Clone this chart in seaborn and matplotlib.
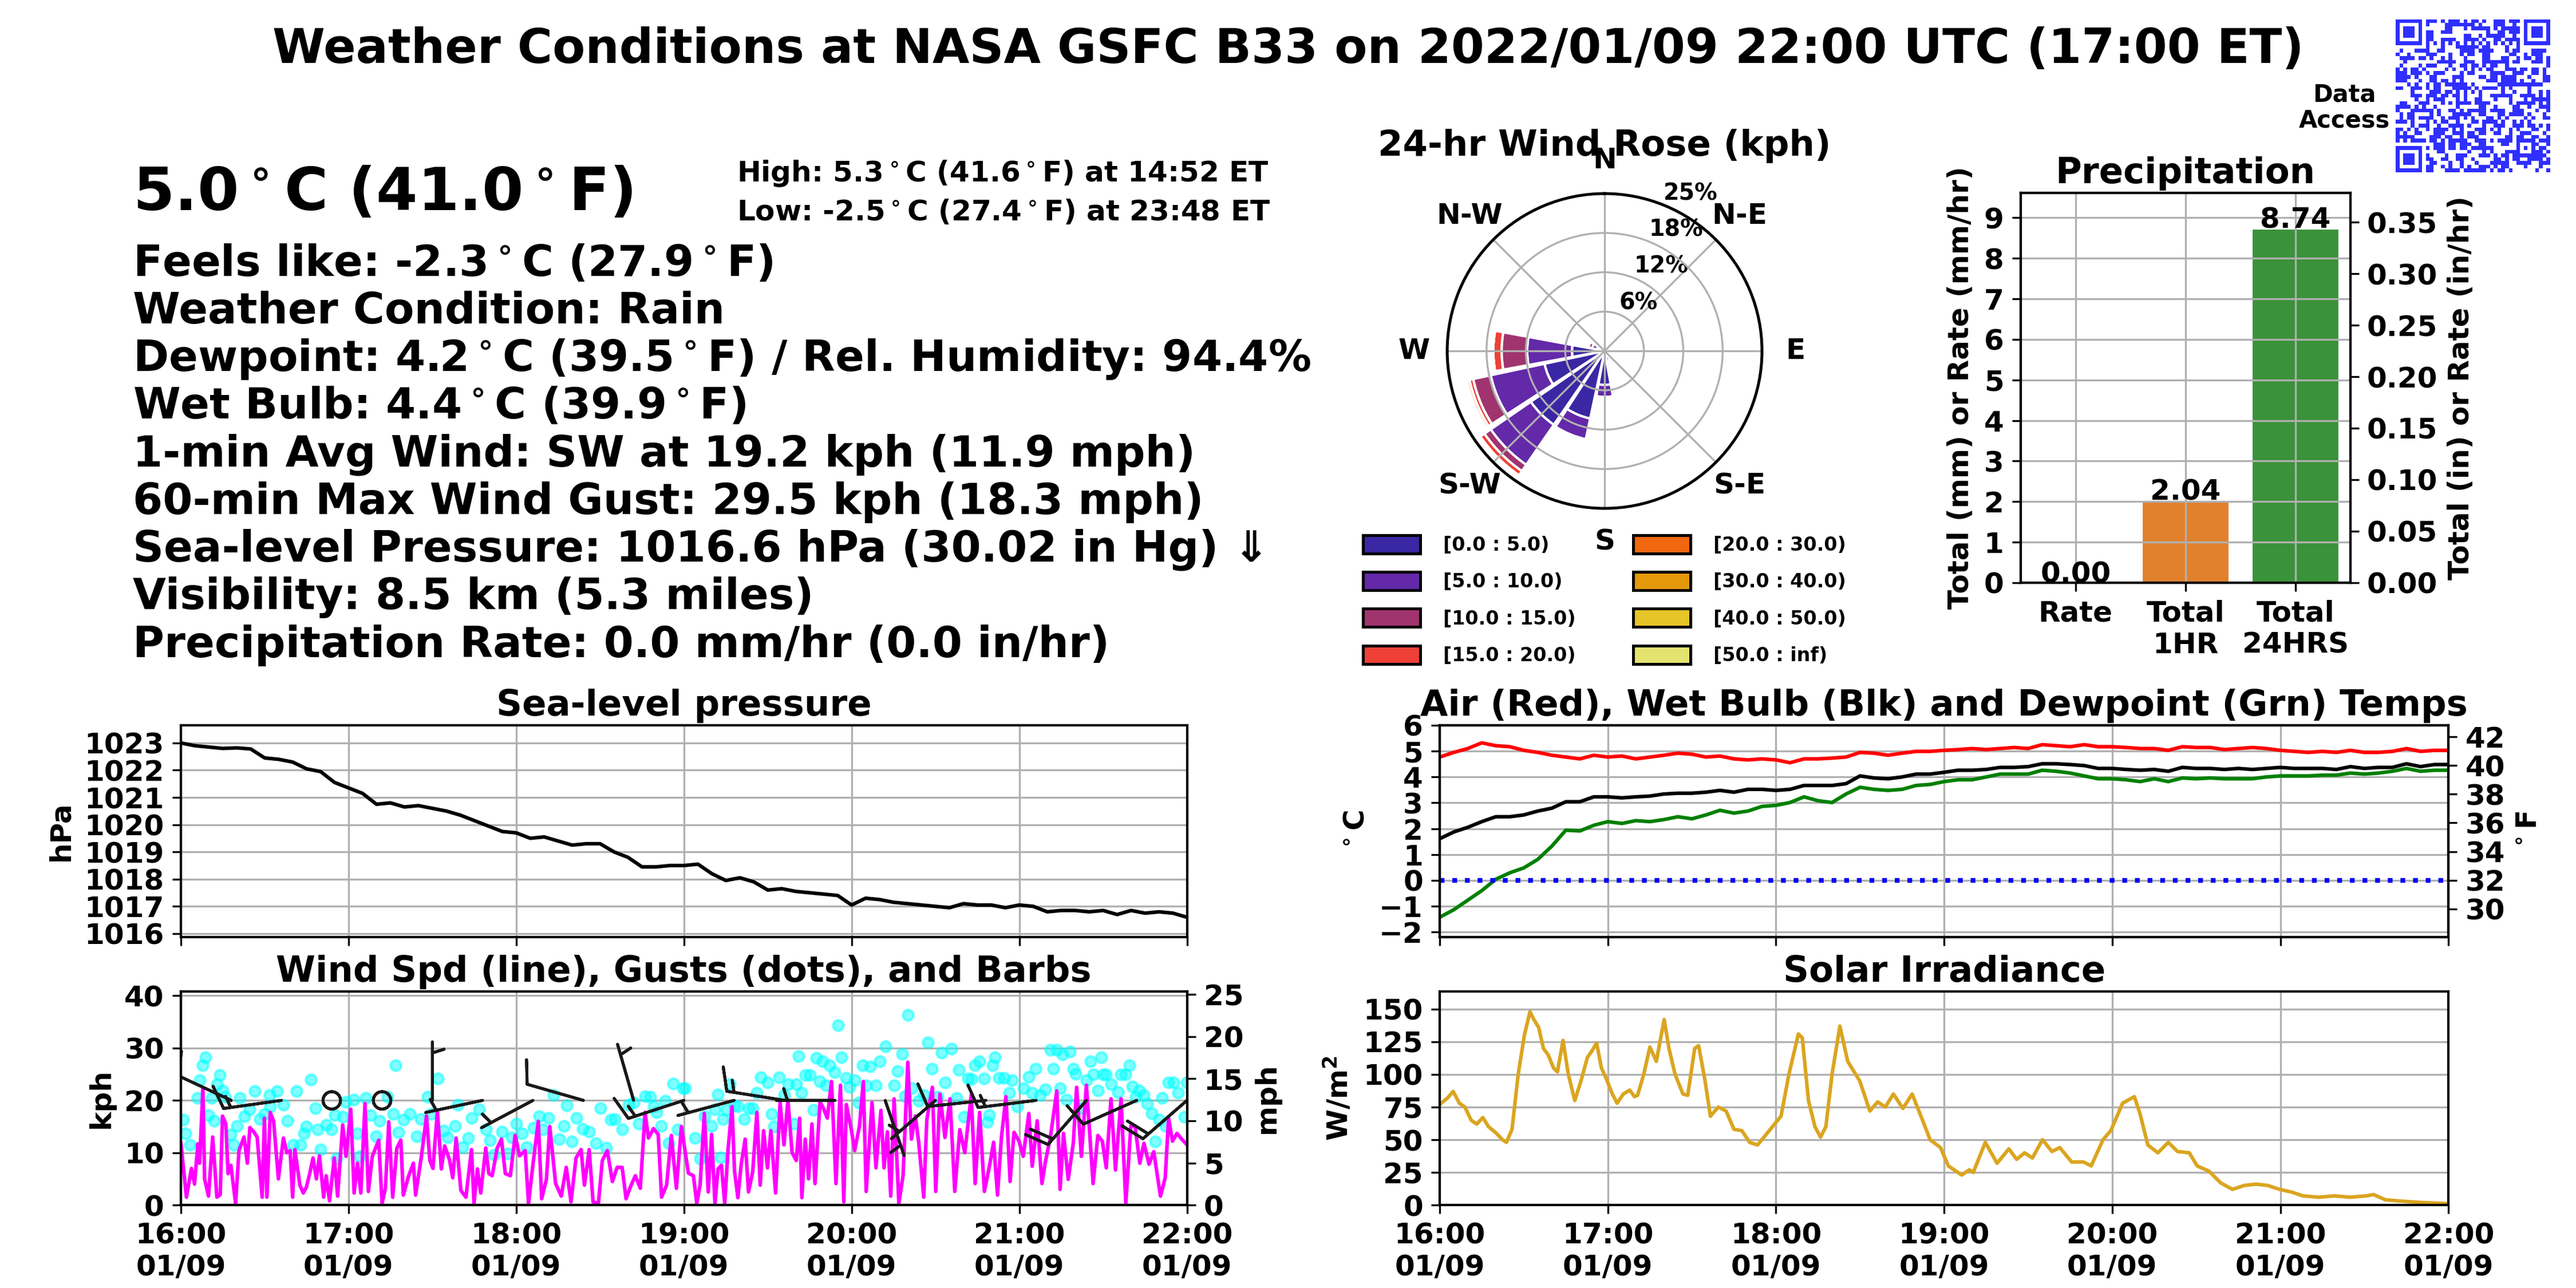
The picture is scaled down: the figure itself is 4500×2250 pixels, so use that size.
import hashlib
import numpy as np
import pandas as pd
import matplotlib
matplotlib.use("Agg")
import matplotlib.pyplot as plt
import matplotlib.dates as mdates
from matplotlib.patches import Patch
from matplotlib.colors import ListedColormap
import seaborn as sns

# ---------------- data ----------------
start = pd.Timestamp("2022-01-09 16:00")
end = pd.Timestamp("2022-01-09 22:00")

five_min = np.arange(0, 361, 5)  # minutes after 16:00

pressure_hpa = [
    1023.00, 1022.90, 1022.85, 1022.80, 1022.82, 1022.78,
    1022.45, 1022.40, 1022.30, 1022.05, 1021.95, 1021.55,
    1021.35, 1021.15, 1020.75, 1020.80, 1020.65, 1020.70,
    1020.60, 1020.50, 1020.35, 1020.15, 1019.95, 1019.75,
    1019.70, 1019.50, 1019.55, 1019.40, 1019.25, 1019.30,
    1019.30, 1019.00, 1018.80, 1018.45, 1018.45, 1018.50,
    1018.50, 1018.55, 1018.20, 1017.95, 1018.05, 1017.90,
    1017.60, 1017.65, 1017.55, 1017.50, 1017.45, 1017.40,
    1017.05, 1017.30, 1017.25, 1017.15, 1017.10, 1017.05,
    1017.00, 1016.95, 1017.10, 1017.05, 1017.05, 1016.95,
    1017.05, 1017.00, 1016.80, 1016.85, 1016.85, 1016.80,
    1016.85, 1016.70, 1016.85, 1016.75, 1016.80, 1016.75,
    1016.60]

air_temp_c = [
    4.77, 4.95, 5.10, 5.32, 5.21, 5.17, 5.03, 4.95, 4.84, 4.77, 4.70, 4.84,
    4.77, 4.81, 4.70, 4.77, 4.84, 4.92, 4.88, 4.77, 4.81, 4.70, 4.66, 4.70,
    4.66, 4.55, 4.70, 4.70, 4.73, 4.77, 4.95, 4.92, 4.84, 4.92, 4.99, 4.99,
    5.03, 5.06, 5.10, 5.06, 5.10, 5.14, 5.10, 5.25, 5.21, 5.17, 5.25, 5.17,
    5.17, 5.14, 5.10, 5.10, 5.03, 5.17, 5.14, 5.14, 5.06, 5.10, 5.14, 5.10,
    5.03, 4.99, 4.95, 4.99, 4.95, 5.03, 4.95, 4.95, 4.99, 5.10, 4.99, 5.03,
    5.03]

wetbulb_c = [
    1.61, 1.87, 2.05, 2.27, 2.46, 2.46, 2.53, 2.68, 2.79, 3.04, 3.04, 3.23,
    3.23, 3.19, 3.23, 3.26, 3.34, 3.37, 3.37, 3.41, 3.48, 3.41, 3.52, 3.52,
    3.48, 3.52, 3.67, 3.67, 3.67, 3.74, 4.04, 3.96, 3.93, 4.00, 4.11, 4.11,
    4.18, 4.26, 4.26, 4.29, 4.37, 4.37, 4.40, 4.51, 4.51, 4.48, 4.44, 4.33,
    4.33, 4.29, 4.26, 4.29, 4.22, 4.37, 4.33, 4.33, 4.29, 4.33, 4.29, 4.33,
    4.37, 4.33, 4.33, 4.33, 4.29, 4.40, 4.33, 4.37, 4.37, 4.51, 4.40, 4.48,
    4.48]

dewpoint_c = [
    -1.43, -1.14, -0.77, -0.40, 0.04, 0.29, 0.48, 0.81, 1.32, 1.94, 1.91, 2.13,
    2.27, 2.20, 2.31, 2.27, 2.35, 2.46, 2.38, 2.53, 2.71, 2.60, 2.68, 2.86,
    2.90, 3.01, 3.23, 3.08, 3.01, 3.34, 3.60, 3.52, 3.48, 3.52, 3.67, 3.71,
    3.82, 3.89, 3.89, 4.00, 4.11, 4.11, 4.11, 4.26, 4.22, 4.15, 4.04, 3.93,
    3.93, 3.89, 3.82, 3.93, 3.82, 3.96, 3.93, 3.96, 3.93, 3.93, 3.93, 4.00,
    4.04, 4.04, 4.04, 4.07, 4.07, 4.15, 4.11, 4.15, 4.22, 4.33, 4.22, 4.26,
    4.26]

# (minute after 16:00, W/m2)
solar_obs = [
    (0, 77), (2.8, 82), (4.8, 87), (7, 78), (9, 75), (11.2, 65), (13.2, 62),
    (15.4, 67), (17.4, 60), (20.2, 55), (22.4, 50), (23.8, 48), (25.8, 58),
    (28, 100), (30.2, 130), (32.2, 148), (33.6, 142), (35.3, 136), (37, 120),
    (38.7, 115), (40.6, 105), (42, 102), (44, 126), (45.9, 100), (48.2, 80),
    (50.4, 95), (52.7, 113), (54.3, 118), (56, 124), (57.7, 105), (59.4, 97),
    (61.6, 85), (63.3, 78), (65.5, 85), (67.8, 88), (69.5, 83), (70.6, 84),
    (72.8, 100), (75, 121), (77.3, 110), (80.1, 142), (81.8, 120), (84, 100),
    (86.8, 85), (88.5, 84), (91, 120), (92.4, 122), (94.7, 95), (96.6, 68),
    (99.4, 75), (102.2, 72), (105, 58), (107.8, 57), (110.6, 48), (113.4, 46),
    (117.6, 57), (121.8, 68), (124.6, 100), (128, 131), (129.4, 128),
    (131.6, 80), (133.9, 60), (135.9, 52), (137.8, 60), (140, 100),
    (142.8, 137), (145.6, 110), (149.9, 95), (153.5, 72), (156.3, 79),
    (159, 75), (161.9, 85), (165.3, 74), (168.6, 85), (172.3, 65), (175, 50),
    (178.7, 44), (181.5, 30), (186.3, 23), (189, 27), (190.4, 25), (194.7, 48),
    (198.9, 32), (203.1, 43), (205.9, 35), (208.7, 40), (211.5, 36),
    (215.1, 50), (218.5, 41), (221.3, 44), (225.5, 33), (229.7, 33),
    (232.5, 30), (236.7, 50), (239.5, 57), (243.7, 78), (247.9, 83),
    (249.9, 70), (252.7, 46), (256.3, 40), (260, 48), (263.3, 41),
    (267.5, 40), (270.3, 30), (274.5, 26), (278.7, 17), (282.9, 12),
    (287.1, 15), (291.3, 16), (295.5, 15), (299.7, 12), (303.9, 10),
    (308.1, 7), (313.7, 6), (319.3, 7), (324.9, 6), (330.5, 7), (333.3, 8),
    (337.5, 4), (343.1, 3), (350.1, 2), (355.7, 1.5), (360, 1)]

# 1-min average wind (minute, kph)
wind_obs = [
    (0, 12), (2, 1.5), (3.8, 7), (4.9, 4), (6.1, 11.7), (6.7, 8), (7.9, 22.3),
    (8.5, 5), (9.9, 1.7), (11.4, 13), (12.9, 1.5), (14.1, 2), (14.9, 17),
    (16.1, 15.5), (16.9, 6), (17.9, 7.6), (19.6, 0.3), (20.8, 10.4), (22.6, 13),
    (23.8, 8), (24.7, 14.8), (26.1, 14), (27.3, 13), (29.1, 1.5), (29.9, 16.6),
    (30.8, 1.5), (32.0, 17.7), (33.2, 16), (34.9, 5), (36.7, 12.8), (37.9, 10),
    (39.1, 10.4), (40.0, 1.5), (40.8, 10.6), (42.6, 3.8), (43.8, 2.3),
    (44.9, 3.4), (46.1, 6), (47.3, 9), (48.5, 5), (49.6, 9.4), (51.1, 1.5),
    (52.0, 5.6), (53.2, 0.8), (54.9, 9), (56.1, 1.7), (57.9, 15.3), (59.1, 9.3),
    (60.8, 18.3), (62.0, 2.3), (63.2, 8), (64.4, 2.3), (65.9, 19.4), (67.1, 2.6),
    (68.5, 9.3), (70.8, 12.4), (72.0, 0.3), (73.2, 3.2), (74.4, 15.9),
    (75.8, 1.5), (77.3, 10.9), (78.7, 12.4), (79.6, 1.9), (81.4, 5.4),
    (83.2, 8), (84.0, 1.9), (86.1, 9.4), (87.9, 17), (89.1, 8.5), (90.2, 7),
    (91.8, 17.9), (93.2, 6.9), (94.4, 11.3), (96.1, 8.7), (97.3, 5.2),
    (98.5, 12.8), (100.2, 2.8), (102.0, 1.5), (104.0, 10.6), (104.9, 0.3),
    (106.1, 6.9), (107.3, 2.3), (109.1, 10.9), (110.2, 6), (111.4, 5.6),
    (113.2, 10.9), (114.7, 12.6), (116.1, 6), (117.9, 5.6), (119.6, 13.3),
    (121.2, 9.4), (123.2, 10.4), (124.4, 0.3), (126.1, 8.3), (127.9, 16),
    (129.1, 1.2), (130.8, 4.9), (132.0, 15), (134.1, 4.1), (136.1, 1.7),
    (137.9, 7.2), (139.6, 0.6), (141.4, 9), (143.2, 10.6), (144.4, 3.8),
    (146.1, 10.6), (147.5, 0.6), (149.4, 0.3), (150.8, 8.5), (152.6, 10.4),
    (154.4, 4.5), (156.1, 7.2), (157.9, 7.2), (159.3, 1.2), (160.8, 3.4),
    (162.6, 5.6), (164.4, 3.2), (166.1, 17.7), (167.3, 12.8), (169.1, 14.6),
    (170.8, 13.5), (172.0, 1.5), (173.8, 3.8), (175.5, 13.3), (177.3, 3.2),
    (179.1, 15), (180.0, 11.8), (181.6, 6.1), (183.4, 5.6), (184.6, 0.3),
    (185.8, 3.9), (187.3, 17.5), (188.7, 2.5), (189.9, 13.5), (191.1, 0.3),
    (192.2, 6.9), (193.4, 7.6), (194.6, 0.3), (195.8, 10.7), (197.2, 18.8),
    (198.1, 6.5), (199.3, 1.4), (200.5, 7.8), (201.9, 12.6), (203.1, 2.5),
    (204.6, 6.3), (206.1, 17.7), (207.3, 3.8), (208.5, 14.2), (209.9, 7.1),
    (211.1, 14.2), (212.8, 2.3), (214.4, 19.6), (215.8, 11.5), (217.2, 20.1),
    (218.7, 10), (220.2, 8.5), (221.4, 16.6), (222.2, 1.4), (223.4, 12.6),
    (224.6, 5), (225.8, 15.5), (226.9, 4.1), (228.7, 19.7), (229.9, 18.5),
    (231.3, 16.6), (232.8, 23.6), (234.4, 4.1), (236.0, 22.9), (237.2, 0.6),
    (238.1, 19.2), (239.9, 14.4), (241.1, 10.4), (242.8, 15.1), (244.2, 23.6),
    (245.2, 2.6), (247.3, 19.6), (248.7, 7.1), (250.5, 18.1), (251.6, 7.1),
    (252.8, 14), (254.0, 1.7), (255.2, 20.3), (256.9, 0.3), (258.4, 5.6),
    (260.1, 27.3), (261.4, 12.6), (262.8, 17), (264.0, 12), (265.8, 1.5),
    (266.9, 16.3), (268.9, 22.5), (270.1, 2.6), (271.6, 21.2), (273.4, 12.9),
    (275.2, 20.3), (276.9, 2.6), (278.7, 14.4), (280.5, 10), (282.8, 21),
    (284.2, 4.1), (285.8, 17.7), (287.5, 2.6), (289.3, 7.4), (290.8, 12),
    (292.2, 1.9), (293.6, 12.9), (295.2, 20.7), (296.7, 4.5), (298.1, 13.9),
    (299.9, 12.2), (301.4, 9.3), (303.4, 17.5), (304.6, 7.4), (306.4, 16.1),
    (308.1, 4.1), (309.3, 8.2), (311.1, 12.9), (313.4, 21.8), (314.6, 3),
    (315.8, 13.7), (317.5, 4.9), (319.3, 11.8), (320.5, 22.5), (322.2, 9.3),
    (324.0, 22.9), (326.4, 4.1), (328.1, 13.3), (329.7, 12.2), (331.1, 7.1),
    (332.8, 20.3), (334.4, 6.7), (336.4, 20.3), (338.1, 0.3), (339.9, 15.1),
    (341.4, 15.1), (343.1, 8), (344.6, 11.8), (346.4, 7.8), (348.1, 10.2),
    (350.5, 1.7), (352.2, 5.2), (353.4, 16.6), (354.8, 12.2), (356.4, 13.7),
    (358.1, 12.6), (360.0, 11.5)]

# gusts (minute, kph)
gust_obs = [
    (0.8, 16.3), (1.6, 13.7), (3.2, 11.5), (5.9, 20.5), (6.8, 23.8), (7.9, 26.7),
    (8.8, 28.2), (9.9, 17.2), (11.1, 20.5), (12.0, 16.1), (12.9, 23.1),
    (13.9, 24.8), (14.9, 21.9), (15.8, 20.7), (17.9, 13.5), (18.8, 11.5),
    (20.0, 15.1), (21.1, 20.5), (22.8, 17), (24.7, 18.3), (26.5, 21.8),
    (28.2, 16.4), (29.9, 17.4), (31.8, 21), (32.0, 18.8), (34.4, 21.8),
    (36.7, 19.2), (38.1, 16.1), (40.2, 11.5), (41.4, 21.8), (42.8, 11.5),
    (44.0, 13.7), (44.9, 15), (46.5, 24), (48.1, 18.5), (48.9, 14.4),
    (49.9, 10.6), (52.0, 15.3), (53.9, 14.4), (55.1, 17.2), (55.8, 8.9),
    (57.9, 16.8), (59.1, 19.7), (61.8, 20.1), (63.2, 13.7), (64.0, 9.3),
    (66.1, 20.5), (67.9, 17.2), (69.9, 13.1), (71.1, 16.1), (73.9, 20.7),
    (76.1, 17.4), (76.8, 26.7), (77.9, 13.9), (79.6, 16.3), (82.0, 17.4),
    (84.4, 13.1), (85.9, 16.4), (88.2, 20.7), (89.6, 17.4), (92.0, 24.2),
    (94.1, 14.2), (95.5, 12.9), (98.1, 15.1), (99.1, 19.2), (100.8, 11.1),
    (102.8, 12.8), (104.0, 16.6), (106.7, 18.3), (109.1, 14.4), (110.6, 12.4),
    (112.0, 9.6), (114.9, 14), (116.9, 9.8), (118.5, 12.9), (120.0, 15.5),
    (122.0, 13.7), (123.8, 11.1), (126.1, 14.8), (128.2, 17), (129.4, 14.4),
    (131.6, 16.6), (133.4, 21), (135.5, 12.6), (137.1, 15.1), (138.1, 19),
    (140.0, 12.2), (141.6, 16.6), (143.8, 14.6), (146.1, 14), (148.5, 11.8),
    (150.2, 18.5), (152.2, 10.9), (153.8, 16.3), (155.3, 16.4), (157.9, 14.4),
    (160.2, 19.2), (162.0, 19.6), (163.8, 15.5), (166.1, 20.8), (167.9, 20.7),
    (169.1, 18.8), (170.2, 17.7), (171.8, 15.1), (173.2, 19.9), (174.6, 11.8),
    (176.1, 23.2), (177.9, 14.4), (179.6, 22.3), (180.5, 22.3), (184.0, 12.8),
    (185.8, 8.9), (187.5, 17), (189.9, 15.1), (191.1, 18.3), (192.2, 21.1),
    (193.2, 9.1), (194.0, 16.4), (195.2, 18.2), (196.4, 23.1), (198.1, 19),
    (199.3, 18.8), (201.6, 16.4), (203.1, 18.5), (204.7, 18.5), (206.1, 21.4),
    (207.5, 24.4), (209.9, 23.4), (211.3, 17.4), (212.2, 15), (214.0, 24.4),
    (215.8, 21), (217.3, 23.1), (219.3, 15.5), (220.2, 23.1), (221.1, 28.5),
    (222.1, 21.5), (223.4, 24.8), (225.2, 24.8), (226.4, 18.2), (227.3, 28.1),
    (228.5, 23.6), (229.6, 27.5), (230.8, 22.9), (232.0, 26.7), (234.0, 25.4),
    (235.2, 34.3), (236.4, 28.2), (238.0, 24.3), (239.3, 22.5), (241.1, 23.8),
    (242.6, 19.6), (244.0, 26.7), (245.2, 22.9), (246.6, 26.5), (248.7, 22.9),
    (250.1, 27.5), (252.2, 30.3), (255.2, 22.9), (256.4, 25.6), (258.1, 28.9),
    (259.1, 20.8), (260.2, 36.3), (261.6, 22.3), (264.0, 19.9), (265.8, 21),
    (267.2, 31.1), (268.7, 26), (270.7, 20.7), (272.2, 29.1), (273.4, 23.4),
    (275.8, 29.9), (277.5, 20.5), (278.4, 25.8), (280.2, 16.8), (281.6, 24.2),
    (282.8, 24.1), (284.0, 26.7), (285.8, 27.5), (287.3, 24.2), (288.5, 15.9),
    (289.3, 17.2), (290.5, 26.7), (291.3, 28.2), (292.8, 24.3), (294.6, 24.3),
    (296.4, 21.4), (297.5, 23.8), (299.3, 18.8), (301.6, 22.3), (303.4, 24.5),
    (304.6, 21.4), (305.8, 26), (307.5, 21), (309.3, 22.1), (311.1, 29.7),
    (312.2, 26), (313.4, 29.7), (314.6, 22.3), (315.5, 28.8), (316.9, 20.1),
    (318.1, 29.3), (319.3, 26), (320.2, 25.1), (322.2, 18.5), (324.0, 23.8),
    (325.4, 27.5), (326.4, 24.9), (328.1, 21.9), (329.3, 28.2), (329.9, 24.9),
    (331.1, 24.9), (332.8, 23.1), (335.2, 21.6), (336.4, 24.9), (337.9, 24.9),
    (339.3, 26.7), (340.5, 22.7), (341.6, 20.7), (342.8, 21.9), (344.6, 21),
    (345.8, 19.4), (347.3, 17.5), (348.7, 12.2), (350.1, 16.3), (351.1, 20.5),
    (352.2, 15.1), (353.4, 23.4), (355.2, 23.4), (356.9, 21.4), (359.1, 16.8),
    (359.9, 23.4)]

# wind barbs every 18 minutes, drawn on the 20 kph line
barb_min = np.arange(0, 361, 18)
barb_speed = [10, 10, 15, 0, 0, 5, 5, 5, 10, 5, 15, 5, 15, 5, 5, 5, 10, 15, 20, 10, 20]
barb_dir = [300, 295, 262, 0, 0, 0, 258, 242, 286, 344, 252, 255, 279, 270,
            161, 229, 264, 263, 221, 246, 229]
barb_level = 20

# precipitation
precip_labels = ["Rate", "Total\n1HR", "Total\n24HRS"]
precip_mm = [0.00, 2.04, 8.74]

# wind rose: percent of time per direction (deg from N) and speed bin
rose_bins = ["[0.0 : 5.0)", "[5.0 : 10.0)", "[10.0 : 15.0)", "[15.0 : 20.0)",
             "[20.0 : 30.0)", "[30.0 : 40.0)", "[40.0 : 50.0)", "[50.0 : inf)"]
rose_colors = ["#3a27a3", "#6329a9", "#a0346f", "#ee4036",
               "#f0670f", "#e4980a", "#e5c527", "#e5e370"]
rose_dirs = [270, 247.5, 225, 202.5, 180, 292.5, 157.5]
rose_0_5 = [5.1, 9.6, 14.0, 10.8, 5.3, 1.2, 1.0]
rose_5_10 = [7.0, 8.6, 7.6, 3.3, 1.9, 0.8, 0.6]
rose_10_15 = [4.0, 2.8, 1.2, 0.2, 0.0, 0.6, 0.0]
rose_15_20 = [1.3, 0.6, 0.8, 0.0, 0.0, 0.0, 0.0]
rose_20_30 = [0.0, 0.4, 0.0, 0.0, 0.0, 0.0, 0.0]
rose_rmax = 24.6

title = "Weather Conditions at NASA GSFC B33 on 2022/01/09 22:00 UTC (17:00 ET)"
current_temp = "5.0$^\\circ$C (41.0$^\\circ$F)"
high_text = "High: 5.3$^\\circ$C (41.6$^\\circ$F) at 14:52 ET"
low_text = "Low: -2.5$^\\circ$C (27.4$^\\circ$F) at 23:48 ET"
info_lines = [
    "Feels like: -2.3$^\\circ$C (27.9$^\\circ$F)",
    "Weather Condition: Rain",
    "Dewpoint: 4.2$^\\circ$C (39.5$^\\circ$F) / Rel. Humidity: 94.4%",
    "Wet Bulb: 4.4$^\\circ$C (39.9$^\\circ$F)",
    "1-min Avg Wind: SW at 19.2 kph (11.9 mph)",
    "60-min Max Wind Gust: 29.5 kph (18.3 mph)",
    "Sea-level Pressure: 1016.6 hPa (30.02 in Hg) \u21d3",
    "Visibility: 8.5 km (5.3 miles)",
    "Precipitation Rate: 0.0 mm/hr (0.0 in/hr)",
]

# ---------------- style ----------------
sns.set_theme(style="ticks", rc={
    "font.weight": "bold", "axes.titleweight": "bold", "axes.labelweight": "bold",
    "font.size": 12, "axes.titlesize": 15, "axes.labelsize": 12,
    "xtick.labelsize": 12, "ytick.labelsize": 12, "axes.titlepad": 4,
    "axes.edgecolor": "black", "axes.linewidth": 1.0, "axes.labelcolor": "black",
    "xtick.color": "black", "ytick.color": "black", "text.color": "black",
    "xtick.major.size": 3.5, "ytick.major.size": 3.5,
    "xtick.major.width": 0.8, "ytick.major.width": 0.8,
    "grid.color": "#b0b0b0", "grid.linewidth": 0.8, "axes.axisbelow": "line",
})
plt.rcParams["font.family"] = ["DejaVu Sans"]


def to_times(minutes):
    return start + pd.to_timedelta(np.asarray(minutes, dtype=float), unit="min")


five_times = to_times(five_min)
solar_min, solar_wm2 = zip(*solar_obs)
wind_min, wind_kph = zip(*wind_obs)
gust_min, gust_kph = zip(*gust_obs)
solar_times = to_times(solar_min)
wind_times = to_times(wind_min)
gust_times = to_times(gust_min)
barb_times = to_times(barb_min)

hour_loc = mdates.HourLocator()
hour_fmt = mdates.DateFormatter("%H:%M\n%m/%d")

fig = plt.figure(figsize=(15, 7.5), dpi=300)

# ---------------- header text ----------------
fig.text(0.5, 0.951, title, ha="center", va="baseline", fontsize=20, weight="bold")
fig.text(0.0515, 0.837, current_temp, va="baseline", fontsize=25, weight="bold")
fig.text(0.286, 0.859, high_text, va="baseline", fontsize=12, weight="bold")
fig.text(0.286, 0.829, low_text, va="baseline", fontsize=12, weight="bold")
for i, line in enumerate(info_lines):
    fig.text(0.0515, 0.786 - i * 0.037, line, va="baseline", fontsize=18, weight="bold")
fig.text(0.910, 0.9164, "Data\nAccess", ha="center", va="center", fontsize=10,
         weight="bold", linespacing=1.1)

# ---------------- QR-like badge ----------------
qr_n = 41
seed = b"NASA GSFC B33 weather station data access"
digest = b""
while len(digest) * 8 < qr_n * qr_n:
    seed = hashlib.sha256(seed).digest()
    digest += seed
qr = np.unpackbits(np.frombuffer(digest, dtype=np.uint8))[: qr_n * qr_n].reshape(qr_n, qr_n)
for r0, c0 in [(0, 0), (0, qr_n - 7), (qr_n - 7, 0)]:
    rs, cs = max(r0 - 1, 0), max(c0 - 1, 0)
    qr[rs:rs + 8, cs:cs + 8] = 0
    qr[r0:r0 + 7, c0:c0 + 7] = 1
    qr[r0 + 1:r0 + 6, c0 + 1:c0 + 6] = 0
    qr[r0 + 2:r0 + 5, c0 + 2:c0 + 5] = 1
qr[6, 8:qr_n - 8] = np.arange(8, qr_n - 8) % 2 == 0
qr[8:qr_n - 8, 6] = np.arange(8, qr_n - 8) % 2 == 0
qr[32:37, 32:37] = 1
qr[33:36, 33:36] = 0
qr[34, 34] = 1
ax_qr = fig.add_axes([0.930, 0.866, 0.060, 0.119])
ax_qr.imshow(qr, cmap=ListedColormap(["white", "#2f2fff"]), interpolation="nearest",
             aspect="auto")
ax_qr.axis("off")

# ---------------- wind rose ----------------
ax_rose = fig.add_axes([0.5618, 0.6053, 0.1222, 0.2444], projection="polar")
ax_rose.set_theta_zero_location("N")
ax_rose.set_theta_direction(-1)
theta = np.deg2rad(rose_dirs)
bottom = np.zeros(len(rose_dirs))
for pct, color in zip([rose_0_5, rose_5_10, rose_10_15, rose_15_20, rose_20_30], rose_colors):
    pct = np.asarray(pct)
    ax_rose.bar(theta, pct, width=np.deg2rad(22.5) * 0.93, bottom=bottom, color=color,
                edgecolor="white", linewidth=1.0)
    bottom += pct
ax_rose.set_ylim(0, rose_rmax)
rticks = rose_rmax * np.arange(1, 5) / 4
ax_rose.set_rgrids(rticks, labels=[f"{t:.0f}%" for t in rticks], angle=22,
                   fontsize=9.5, weight="bold")
ax_rose.set_thetagrids(np.arange(0, 360, 45),
                       labels=["N", "N-E", "E", "S-E", "S", "S-W", "W", "N-W"],
                       fontsize=12, weight="bold")
ax_rose.tick_params(axis="x", pad=3.5)
ax_rose.grid(True, color="#b0b0b0", linewidth=0.8)
ax_rose.spines["polar"].set_linewidth(1.2)
ax_rose.set_title("24-hr Wind Rose (kph)", y=1.09, fontsize=15)
handles = [Patch(facecolor=c, edgecolor="black", linewidth=1.2) for c in rose_colors]
leg = ax_rose.legend(handles, rose_bins, ncol=2, loc="upper center",
                     bbox_to_anchor=(0.5, -0.03), frameon=False,
                     prop={"size": 8, "weight": "bold"}, handlelength=3,
                     handleheight=1.1, handletextpad=1.2, labelspacing=0.9,
                     columnspacing=3.0)

# ---------------- precipitation ----------------
ax_r = fig.add_axes([0.7844, 0.5476, 0.128, 0.3027])
sns.barplot(x=precip_labels, y=precip_mm, hue=precip_labels,
            palette=["tab:blue", "tab:orange", "tab:green"], legend=False, ax=ax_r)
ymax = max(precip_mm) * 1.1
ax_r.set_ylim(0, ymax)
ax_r.set_yticks(range(0, 10))
for i, v in enumerate(precip_mm):
    ax_r.text(i, v, f"{v:.2f}", ha="center", va="baseline", fontsize=12, weight="bold")
ax_r.set_title("Precipitation")
ax_r.set_ylabel("Total (mm) or Rate (mm/hr)")
ax_r.grid(True)
ax_r2 = ax_r.twinx()
ax_r2.set_ylim(0, ymax / 25.4)
ax_r2.set_yticks(np.arange(0, 0.36, 0.05))
ax_r2.yaxis.set_major_formatter(matplotlib.ticker.FormatStrFormatter("%.2f"))
ax_r2.set_ylabel("Total (in) or Rate (in/hr)")

# ---------------- sea-level pressure ----------------
ax_p = fig.add_axes([0.0702, 0.2724, 0.3906, 0.1645])
sns.lineplot(x=five_times, y=pressure_hpa, ax=ax_p, color="black", linewidth=1.5)
ax_p.set_ylim(1015.87, 1023.65)
ax_p.set_yticks(range(1016, 1024))
ax_p.set_title("Sea-level pressure")
ax_p.set_ylabel("hPa")

# ---------------- wind ----------------
ax_w = fig.add_axes([0.0702, 0.0644, 0.3906, 0.1658])
sns.scatterplot(x=gust_times, y=gust_kph, ax=ax_w, color="cyan", alpha=0.5, s=20,
                edgecolor="cyan", linewidth=1.0, zorder=2)
sns.lineplot(x=wind_times, y=wind_kph, ax=ax_w, color="magenta", linewidth=1.5, zorder=3)
spd = np.asarray(barb_speed, dtype=float)
rad = np.deg2rad(barb_dir)
ax_w.barbs(mdates.date2num(barb_times.to_pydatetime()), np.full(len(spd), barb_level),
           -spd * np.sin(rad), -spd * np.cos(rad), length=7, linewidth=1.2, zorder=4)
ax_w.set_ylim(0, 40.8)
ax_w.set_yticks(range(0, 41, 10))
ax_w.set_title("Wind Spd (line), Gusts (dots), and Barbs")
ax_w.set_ylabel("kph")
ax_w2 = ax_w.twinx()
ax_w2.set_ylim(0, 40.8 / 1.609)
ax_w2.set_yticks(range(0, 26, 5))
ax_w2.set_ylabel("mph")

# ---------------- temperatures ----------------
ax_t = fig.add_axes([0.5589, 0.2724, 0.3916, 0.1645])
sns.lineplot(x=five_times, y=air_temp_c, ax=ax_t, color="red", linewidth=1.5)
sns.lineplot(x=five_times, y=wetbulb_c, ax=ax_t, color="black", linewidth=1.5)
sns.lineplot(x=five_times, y=dewpoint_c, ax=ax_t, color="green", linewidth=1.5)
ax_t.axhline(0, color="blue", linestyle=":", linewidth=2)
ax_t.set_ylim(-2.2, 6.0)
ax_t.set_yticks(range(-2, 7))
ax_t.set_title("Air (Red), Wet Bulb (Blk) and Dewpoint (Grn) Temps")
ax_t.set_ylabel("$^\\circ$C")
ax_t2 = ax_t.twinx()
ax_t2.set_ylim(-2.2 * 9 / 5 + 32, 6.0 * 9 / 5 + 32)
ax_t2.set_yticks(range(30, 43, 2))
ax_t2.set_ylabel("$^\\circ$F")

# ---------------- solar ----------------
ax_s = fig.add_axes([0.5589, 0.0644, 0.3916, 0.1658])
sns.lineplot(x=solar_times, y=solar_wm2, ax=ax_s, color="goldenrod", linewidth=1.5)
ax_s.set_ylim(0, 163.5)
ax_s.set_yticks(range(0, 151, 25))
ax_s.set_title("Solar Irradiance")
ax_s.set_ylabel("W/m$^2$")

# ---------------- shared time axes ----------------
for ax in [ax_p, ax_w, ax_t, ax_s]:
    ax.set_xlim(start, end)
    ax.xaxis.set_major_locator(hour_loc)
    ax.xaxis.set_major_formatter(hour_fmt)
    ax.set_xlabel("")
    ax.grid(True)
for ax in [ax_p, ax_t]:
    ax.tick_params(axis="x", labelbottom=False)

fig.savefig("out.png", dpi=300)
